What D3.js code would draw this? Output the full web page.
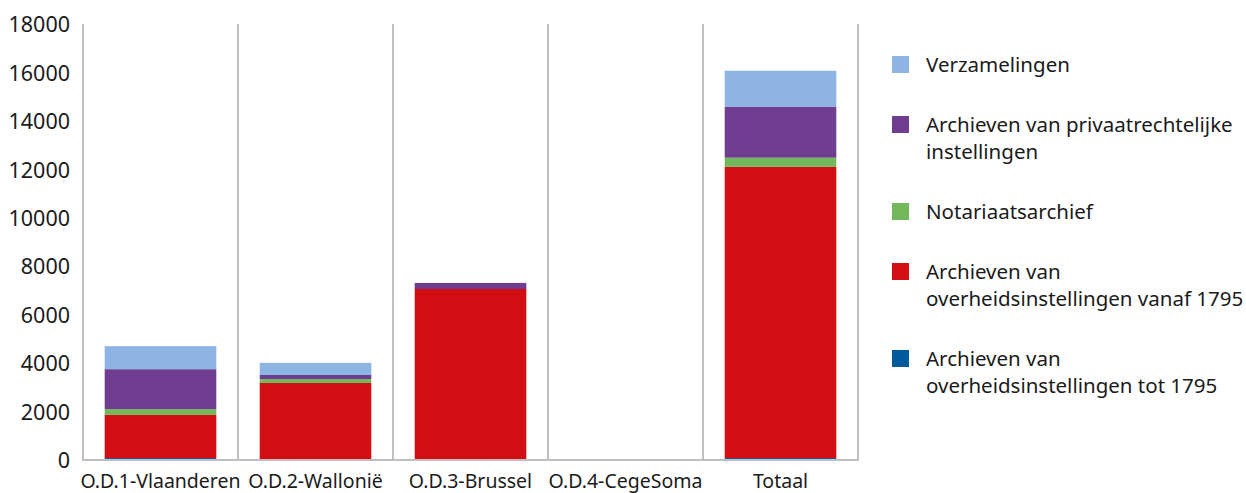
<!DOCTYPE html>
<html>
<head>
<meta charset="utf-8">
<title>Archieven per O.D.</title>
<script src="https://cdn.jsdelivr.net/npm/d3@7"></script>
<style>
  body { margin: 0; background: #fff; }
  text { font-family: "Noto Sans", sans-serif; fill: #1a1a1a; }
</style>
</head>
<body>
<svg id="chart" width="1246" height="493"></svg>
<script>
// categories and stacked series (bottom to top)
var categories = ["O.D.1-Vlaanderen", "O.D.2-Wallonië", "O.D.3-Brussel", "O.D.4-CegeSoma", "Totaal"]
var seriesNames = ["Archieven van overheidsinstellingen tot 1795",
                   "Archieven van overheidsinstellingen vanaf 1795",
                   "Notariaatsarchief",
                   "Archieven van privaatrechtelijke instellingen",
                   "Verzamelingen"]
var tot1795     = [80, 0, 0, 0, 80]
var vanaf1795   = [1780, 3180, 7060, 0, 12020]
var notariaat   = [240, 160, 0, 0, 380]
var privaat     = [1650, 170, 250, 0, 2100]
var verzameling = [950, 500, 0, 0, 1490]
var colors = ["#005a9c", "#d20d14", "#73b95b", "#6f3e91", "#8db4e2"]
var yTicks = [0, 2000, 4000, 6000, 8000, 10000, 12000, 14000, 16000, 18000]

var rows = categories.map(function (c, i) {
  return { cat: c, s0: tot1795[i], s1: vanaf1795[i], s2: notariaat[i], s3: privaat[i], s4: verzameling[i] }
})
var keys = ["s0", "s1", "s2", "s3", "s4"]
var stacked = d3.stack().keys(keys)(rows)

var svg = d3.select("#chart")
var m = { left: 83, right: 858, top: 24, bottom: 460 }

var x = d3.scaleBand().domain(categories).range([m.left, m.right]).paddingInner(0).paddingOuter(0)
var y = d3.scaleLinear().domain([0, 18000]).range([m.bottom, m.top])
var barW = x.bandwidth() * 0.72

// separators between categories
svg.append("g").selectAll("line")
  .data(d3.range(categories.length + 1))
  .enter().append("line")
  .attr("x1", function (i) { return i < categories.length ? x(categories[i]) : m.right })
  .attr("x2", function (i) { return i < categories.length ? x(categories[i]) : m.right })
  .attr("y1", m.top)
  .attr("y2", m.bottom)
  .attr("stroke", "#bfbfbf")
  .attr("stroke-width", 2)

// bars
svg.append("g").selectAll("g")
  .data(stacked)
  .enter().append("g")
  .attr("fill", function (d, i) { return colors[i] })
  .selectAll("rect")
  .data(function (d) { return d })
  .enter().append("rect")
  .attr("x", function (d) { return x(d.data.cat) + (x.bandwidth() - barW) / 2 })
  .attr("width", barW)
  .attr("y", function (d) { return y(d[1]) })
  .attr("height", function (d) { return y(d[0]) - y(d[1]) })

// baseline
svg.append("line")
  .attr("x1", m.left - 1).attr("x2", m.right + 1)
  .attr("y1", m.bottom).attr("y2", m.bottom)
  .attr("stroke", "#bfbfbf").attr("stroke-width", 2)

// y axis
var yAxis = svg.append("g")
  .attr("transform", "translate(" + m.left + ",0)")
  .call(d3.axisLeft(y).tickValues(yTicks).tickSize(0).tickPadding(13).tickFormat(d3.format("d")))
yAxis.select(".domain").remove()
yAxis.selectAll("text").style("font-size", "21.5px").attr("dy", "0.36em")

// x axis
var xAxis = svg.append("g")
  .attr("transform", "translate(0," + m.bottom + ")")
  .call(d3.axisBottom(x).tickSize(0).tickPadding(14))
xAxis.select(".domain").remove()
xAxis.selectAll("text").style("font-size", "19.5px")

// legend
var legendItems = [
  { i: 4, lines: ["Verzamelingen"], y: 64.5 },
  { i: 3, lines: ["Archieven van privaatrechtelijke", "instellingen"], y: 124.5 },
  { i: 2, lines: ["Notariaatsarchief"], y: 211.5 },
  { i: 1, lines: ["Archieven van", "overheidsinstellingen vanaf 1795"], y: 271.5 },
  { i: 0, lines: ["Archieven van", "overheidsinstellingen tot 1795"], y: 358.5 }
]
var lg = svg.append("g").selectAll("g").data(legendItems).enter().append("g")
  .attr("transform", function (d) { return "translate(892," + d.y + ")" })
lg.append("rect")
  .attr("x", 0).attr("y", -8.5).attr("width", 17).attr("height", 17)
  .attr("fill", function (d) { return colors[d.i] })
lg.append("text")
  .attr("x", 34)
  .style("font-size", "20.5px")
  .selectAll("tspan")
  .data(function (d) { return d.lines })
  .enter().append("tspan")
  .attr("x", 34)
  .attr("y", function (d, j) { return j * 27 })
  .attr("dy", "0.36em")
  .text(function (d) { return d })
</script>
</body>
</html>
